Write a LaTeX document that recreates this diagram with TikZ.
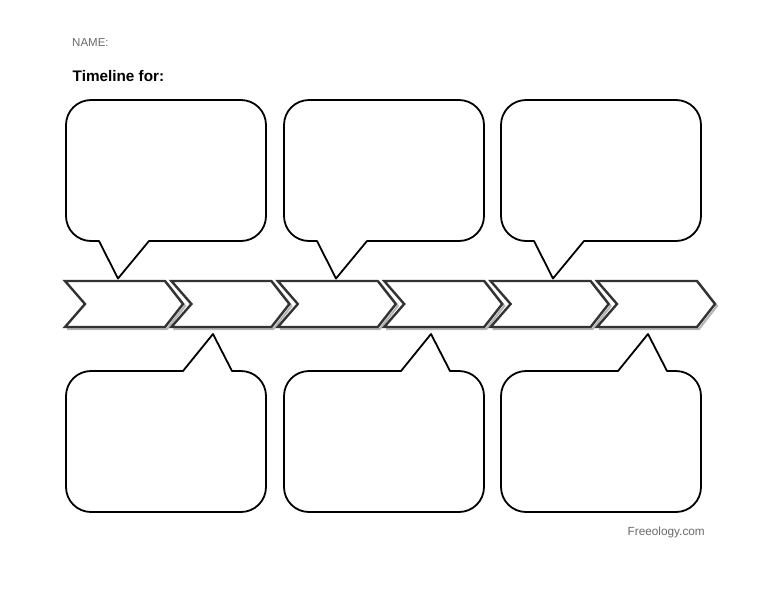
\documentclass[tikz,border=0pt]{standalone}
\usepackage{fontspec}
\setmainfont{Liberation Sans}
\definecolor{chevline}{HTML}{333333}
\definecolor{chevshadow}{HTML}{B4B4B4}
\definecolor{labelgray}{HTML}{6A6A6A}
\begin{document}
\begin{tikzpicture}[x=1pt,y=-1pt,
  callout/.style={draw=black,line width=1.8pt,fill=white,line join=round},
  chevron/.style={draw=chevline,line width=2.4pt,fill=white,line join=miter},
  chevshade/.style={draw=chevshadow,line width=2pt},
  small/.style={anchor=base west,inner sep=0pt,text=labelgray,font=\fontsize{11.5}{13}\selectfont},
  title/.style={anchor=base west,inner sep=0pt,font=\fontsize{15.3}{18}\selectfont\bfseries}]
\useasboundingbox[fill=white] (0,0) rectangle (776,600);
% header texts
\node[small] (name) at (72,46.7) {NAME:};
\node[title] (title) at (72.5,81.7) {Timeline for:};
\node[small,anchor=base east,font=\fontsize{11.8}{13}\selectfont] (credit) at (705,535.7) {Freeology.com};
% chevrons
\foreach \i in {0,...,5}{
  \pgfmathsetmacro{\xo}{65+106.4*\i}
  \draw[chevshade] (\xo+2,283) -- (\xo+102,283) -- (\xo+120,306) -- (\xo+102,329) -- (\xo+2,329);
  \draw[chevron] (\xo,281) -- (\xo+100,281) -- (\xo+118,304) -- (\xo+100,327) -- (\xo,327) -- (\xo+20,304) -- cycle;
}
% top callouts
\foreach \xl in {66,284,501}{
  \pgfmathsetmacro{\xr}{\xl+200}
  \draw[callout] (\xl+33,241) -- (\xl+52,278.5) -- (\xl+83,241) -- (\xr-25,241)
    arc[start angle=90,end angle=0,radius=25] -- (\xr,125)
    arc[start angle=0,end angle=-90,radius=25] -- (\xl+25,100)
    arc[start angle=-90,end angle=-180,radius=25] -- (\xl,216)
    arc[start angle=180,end angle=90,radius=25] -- cycle;
}
% bottom callouts
\foreach \xl in {66,284,501}{
  \pgfmathsetmacro{\xr}{\xl+200}
  \draw[callout] (\xl+117,371) -- (\xl+147,334) -- (\xl+166,371) -- (\xr-25,371)
    arc[start angle=-90,end angle=0,radius=25] -- (\xr,487)
    arc[start angle=0,end angle=90,radius=25] -- (\xl+25,512)
    arc[start angle=90,end angle=180,radius=25] -- (\xl,396)
    arc[start angle=180,end angle=270,radius=25] -- cycle;
}
\end{tikzpicture}
\end{document}
